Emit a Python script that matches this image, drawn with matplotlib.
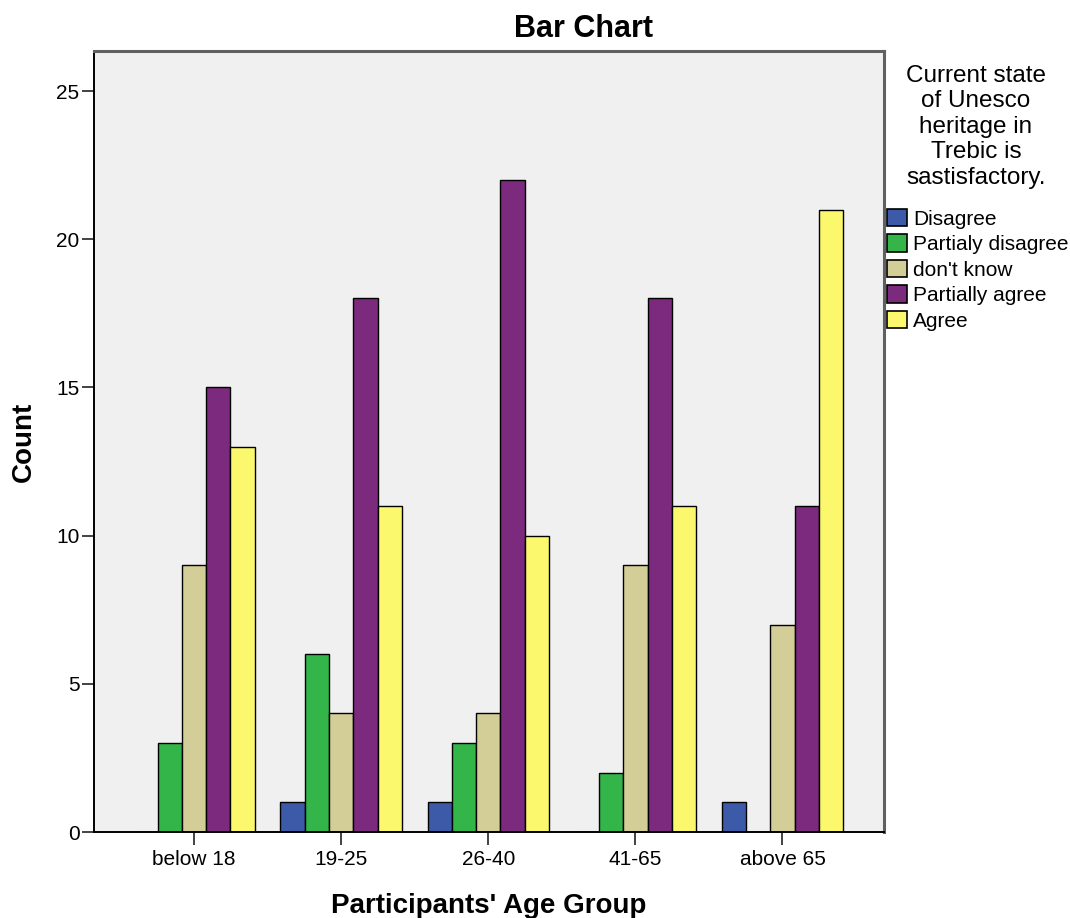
import matplotlib.pyplot as plt
import numpy as np

plt.rcParams['font.family'] = ['Liberation Sans', 'DejaVu Sans']

# data
groups = ['below 18', '19-25', '26-40', '41-65', 'above 65']
answers = ['Disagree', 'Partialy disagree', "don't know", 'Partially agree', 'Agree']
counts = np.array([
    [0, 1, 1, 0, 1],      # Disagree
    [3, 6, 3, 2, 0],      # Partialy disagree
    [9, 4, 4, 9, 7],      # don't know
    [15, 18, 22, 18, 11], # Partially agree
    [13, 11, 10, 11, 21], # Agree
])
colors = ['#3d5aa8', '#33b54a', '#d3ce97', '#7b2a7d', '#fbf86e']
legend_title = 'Current state\nof Unesco\nheritage in\nTrebic is\nsastisfactory.'

W, H = 1070, 918
fig = plt.figure(figsize=(W / 100, H / 100), dpi=100)
ax = fig.add_axes([94 / W, 1 - 832 / H, (884 - 94) / W, (832 - 51) / H])
ax.set_facecolor('#f0f0f0')

x = np.arange(len(groups))
width = 0.165
for j in range(len(answers)):
    ax.bar(x + (j - 2) * width, counts[j], width, color=colors[j],
           edgecolor='black', linewidth=1.0, label=answers[j], zorder=2)

ax.set_xlim(-0.68, 4.69)
ax.set_ylim(0, 26.35)
ax.set_yticks(np.arange(0, 26, 5))
ax.set_xticks(x, groups)

ax.tick_params(axis='both', direction='out', length=9, width=1.2,
               colors='#222222', labelsize=15, labelcolor='black')
ax.tick_params(axis='y', pad=1.5)
ax.tick_params(axis='x', pad=4)

for s in ['left', 'bottom']:
    ax.spines[s].set_color('black')
    ax.spines[s].set_linewidth(1.4)
for s in ['top', 'right']:
    ax.spines[s].set_color('#606060')
    ax.spines[s].set_linewidth(2.2)

ax.set_ylabel('Count', fontsize=20, fontweight='bold', labelpad=14)
ax.set_xlabel("Participants' Age Group", fontsize=20, fontweight='bold', labelpad=17)
fig.text(584 / W, 1 - 37 / H, 'Bar Chart', fontsize=22, fontweight='bold',
         ha='center', va='baseline')

# legend title drawn separately so it can be centred above the entries
fig.text(976 / W, 1 - 65 / H, legend_title, fontsize=17.5, ha='center', va='top',
         multialignment='center', linespacing=1.2)
leg = ax.legend(loc='upper left', bbox_to_anchor=(887 / W, 1 - 209 / H),
                bbox_transform=fig.transFigure, frameon=False, fontsize=15,
                borderpad=0, borderaxespad=0,
                handlelength=0.95, handleheight=0.9, handletextpad=0.3,
                labelspacing=0.27)
for p in leg.get_patches():
    p.set_linewidth(1.2)

fig.savefig('out.png', dpi=100)
